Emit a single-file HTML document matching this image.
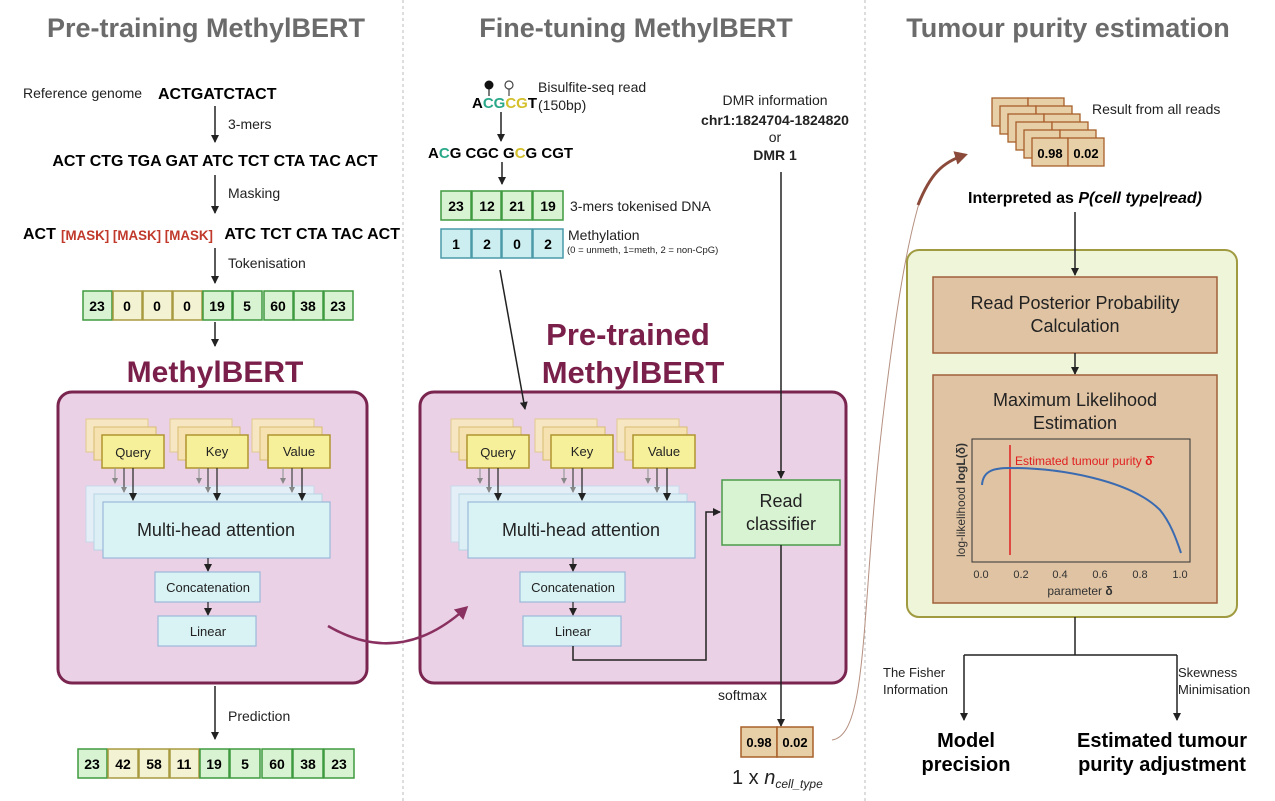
<!DOCTYPE html>
<html><head><meta charset="utf-8"><style>
body{margin:0;background:#fff}
svg{display:block}
text{font-family:"Liberation Sans",sans-serif}
</style></head><body>
<svg width="1275" height="801" viewBox="0 0 1275 801" xmlns="http://www.w3.org/2000/svg">
<defs>
<marker id="ah" markerWidth="8" markerHeight="8" refX="7" refY="4" orient="auto" markerUnits="userSpaceOnUse"><path d="M0,0 L8,4 L0,8 z" fill="#222"/></marker>
<marker id="ahg" markerWidth="6" markerHeight="6" refX="5" refY="3" orient="auto" markerUnits="userSpaceOnUse"><path d="M0,0 L6,3 L0,6 z" fill="#888"/></marker>
<marker id="ahp" markerWidth="14" markerHeight="14" refX="10" refY="7" orient="auto" markerUnits="userSpaceOnUse"><path d="M0,0 L13,7 L0,14 z" fill="#8a3060"/></marker>
<marker id="ahb" markerWidth="14" markerHeight="14" refX="10" refY="7" orient="auto" markerUnits="userSpaceOnUse"><path d="M0,0 L13,7 L0,14 z" fill="#8b4a3a"/></marker>
</defs>

<!-- titles -->
<g font-weight="bold" font-size="27" fill="#6b6b6b" text-anchor="middle">
<text x="206" y="37">Pre-training MethylBERT</text>
<text x="636" y="37">Fine-tuning MethylBERT</text>
<text x="1068" y="37">Tumour purity estimation</text>
</g>
<line x1="403" y1="0" x2="403" y2="801" stroke="#bbb" stroke-dasharray="3,3"/>
<line x1="865" y1="0" x2="865" y2="801" stroke="#bbb" stroke-dasharray="3,3"/>

<!-- LEFT -->
<text x="23" y="98" font-size="14" fill="#222">Reference genome</text>
<text x="158" y="99" font-size="16" font-weight="bold">ACTGATCTACT</text>
<line x1="215" y1="106" x2="215" y2="142" stroke="#222" stroke-width="1.5" marker-end="url(#ah)"/>
<text x="228" y="129" font-size="14" fill="#222">3-mers</text>
<text x="215" y="166" font-size="16" font-weight="bold" text-anchor="middle">ACT CTG TGA GAT ATC TCT CTA TAC ACT</text>
<line x1="215" y1="175" x2="215" y2="213" stroke="#222" stroke-width="1.5" marker-end="url(#ah)"/>
<text x="228" y="198" font-size="14" fill="#222">Masking</text>
<text x="23" y="239" font-size="16" font-weight="bold">ACT</text>
<text x="61" y="240" font-size="13.5" font-weight="bold" fill="#c0392b" textLength="152" lengthAdjust="spacingAndGlyphs">[MASK] [MASK] [MASK]</text>
<text x="400" y="239" font-size="16" font-weight="bold" text-anchor="end">ATC TCT CTA TAC ACT</text>
<line x1="215" y1="248" x2="215" y2="283" stroke="#222" stroke-width="1.5" marker-end="url(#ah)"/>
<text x="228" y="268" font-size="14" fill="#222">Tokenisation</text>

<g font-size="14" font-weight="bold" text-anchor="middle">
<g stroke-width="1.5">
<rect x="83" y="291" width="29" height="29" fill="#d8f3d2" stroke="#3f9a3f"/>
<rect x="113" y="291" width="29" height="29" fill="#f3f2d3" stroke="#a89a40"/>
<rect x="143" y="291" width="29" height="29" fill="#f3f2d3" stroke="#a89a40"/>
<rect x="173" y="291" width="29" height="29" fill="#f3f2d3" stroke="#a89a40"/>
<rect x="203" y="291" width="29" height="29" fill="#d8f3d2" stroke="#3f9a3f"/>
<rect x="233" y="291" width="29" height="29" fill="#d8f3d2" stroke="#3f9a3f"/>
<rect x="264" y="291" width="29" height="29" fill="#d8f3d2" stroke="#3f9a3f"/>
<rect x="294" y="291" width="29" height="29" fill="#d8f3d2" stroke="#3f9a3f"/>
<rect x="324" y="291" width="29" height="29" fill="#d8f3d2" stroke="#3f9a3f"/>
</g>
<text x="97" y="311">23</text><text x="127" y="311">0</text><text x="157" y="311">0</text><text x="187" y="311">0</text><text x="217" y="311">19</text><text x="247" y="311">5</text><text x="278" y="311">60</text><text x="308" y="311">38</text><text x="338" y="311">23</text>
</g>
<line x1="215" y1="322" x2="215" y2="346" stroke="#222" stroke-width="1.5" marker-end="url(#ah)"/>
<text x="215" y="382" font-size="30" font-weight="bold" fill="#7a1f4a" text-anchor="middle">MethylBERT</text>

<!-- left purple box -->
<rect x="58" y="392" width="309" height="291" rx="14" fill="#ead1e6" stroke="#7a2550" stroke-width="3"/>
<g id="qkv">
<g stroke-width="1">
<rect x="86" y="419" width="62" height="33" fill="#f7e6c2" stroke="#e0c890"/>
<rect x="94" y="427" width="62" height="33" fill="#f5e2b0" stroke="#d8bc70"/>
<rect x="102" y="435" width="62" height="33" fill="#f7f09a" stroke="#b09530" stroke-width="1.5"/>
<rect x="170" y="419" width="62" height="33" fill="#f7e6c2" stroke="#e0c890"/>
<rect x="178" y="427" width="62" height="33" fill="#f5e2b0" stroke="#d8bc70"/>
<rect x="186" y="435" width="62" height="33" fill="#f7f09a" stroke="#b09530" stroke-width="1.5"/>
<rect x="252" y="419" width="62" height="33" fill="#f7e6c2" stroke="#e0c890"/>
<rect x="260" y="427" width="62" height="33" fill="#f5e2b0" stroke="#d8bc70"/>
<rect x="268" y="435" width="62" height="33" fill="#f7f09a" stroke="#b09530" stroke-width="1.5"/>
</g>
<g font-size="13" text-anchor="middle" fill="#222">
<text x="133" y="457">Query</text><text x="217" y="456">Key</text><text x="299" y="456">Value</text>
</g>
<rect x="86" y="486" width="228" height="56" fill="#e3eef7" stroke="#c8d8ea"/>
<rect x="94" y="494" width="228" height="56" fill="#dceff5" stroke="#b8d4e4"/>
<g stroke-width="1.2">
<line x1="115" y1="468" x2="115" y2="483" stroke="#999" marker-end="url(#ahg)"/>
<line x1="124" y1="468" x2="124" y2="492" stroke="#444" marker-end="url(#ahg)"/>
<line x1="133" y1="468" x2="133" y2="500" stroke="#222" marker-end="url(#ah)"/>
<line x1="199" y1="468" x2="199" y2="483" stroke="#999" marker-end="url(#ahg)"/>
<line x1="208" y1="468" x2="208" y2="492" stroke="#444" marker-end="url(#ahg)"/>
<line x1="217" y1="468" x2="217" y2="500" stroke="#222" marker-end="url(#ah)"/>
<line x1="283" y1="468" x2="283" y2="483" stroke="#999" marker-end="url(#ahg)"/>
<line x1="292" y1="468" x2="292" y2="492" stroke="#444" marker-end="url(#ahg)"/>
<line x1="302" y1="468" x2="302" y2="500" stroke="#222" marker-end="url(#ah)"/>
</g>
<rect x="103" y="502" width="227" height="56" fill="#d9f3f5" stroke="#9ab8d8" stroke-width="1.2"/>
<text x="216" y="536" font-size="18" text-anchor="middle" fill="#222">Multi-head attention</text>
<line x1="208" y1="558" x2="208" y2="571" stroke="#222" stroke-width="1.2" marker-end="url(#ah)"/>
<rect x="155" y="572" width="105" height="30" fill="#d9f3f5" stroke="#9ab8d8" stroke-width="1.2"/>
<text x="208" y="592" font-size="13" text-anchor="middle" fill="#222">Concatenation</text>
<line x1="208" y1="602" x2="208" y2="615" stroke="#222" stroke-width="1.2" marker-end="url(#ah)"/>
<rect x="158" y="616" width="98" height="30" fill="#d9f3f5" stroke="#9ab8d8" stroke-width="1.2"/>
<text x="208" y="636" font-size="13" text-anchor="middle" fill="#222">Linear</text>
</g>

<line x1="215" y1="686" x2="215" y2="739" stroke="#222" stroke-width="1.5" marker-end="url(#ah)"/>
<text x="228" y="721" font-size="14" fill="#222">Prediction</text>
<g font-size="14" font-weight="bold" text-anchor="middle">
<g stroke-width="1.5">
<rect x="78" y="749" width="29" height="29" fill="#d8f3d2" stroke="#3f9a3f"/>
<rect x="108" y="749" width="30" height="29" fill="#f3f2d3" stroke="#a89a40"/>
<rect x="139" y="749" width="30" height="29" fill="#f3f2d3" stroke="#a89a40"/>
<rect x="170" y="749" width="29" height="29" fill="#f3f2d3" stroke="#a89a40"/>
<rect x="200" y="749" width="29" height="29" fill="#d8f3d2" stroke="#3f9a3f"/>
<rect x="230" y="749" width="30" height="29" fill="#d8f3d2" stroke="#3f9a3f"/>
<rect x="262" y="749" width="30" height="29" fill="#d8f3d2" stroke="#3f9a3f"/>
<rect x="293" y="749" width="30" height="29" fill="#d8f3d2" stroke="#3f9a3f"/>
<rect x="324" y="749" width="30" height="29" fill="#d8f3d2" stroke="#3f9a3f"/>
</g>
<text x="92" y="769">23</text><text x="123" y="769">42</text><text x="154" y="769">58</text><text x="184" y="769">11</text><text x="214" y="769">19</text><text x="245" y="769">5</text><text x="277" y="769">60</text><text x="308" y="769">38</text><text x="339" y="769">23</text>
</g>

<!-- MIDDLE -->
<line x1="489" y1="86" x2="489" y2="96" stroke="#222" stroke-width="1.2"/>
<circle cx="489" cy="85" r="4.5" fill="#111"/>
<line x1="509" y1="89" x2="509" y2="96" stroke="#444" stroke-width="1.2"/>
<circle cx="509" cy="85" r="4" fill="#fff" stroke="#444" stroke-width="1.2"/>
<text x="472" y="108" font-size="15" font-weight="bold"><tspan>A</tspan><tspan fill="#2aa88a">CG</tspan><tspan fill="#d4c02a">CG</tspan><tspan>T</tspan></text>
<text x="538" y="92" font-size="14" fill="#222">Bisulfite-seq read</text>
<text x="538" y="110" font-size="14" fill="#222">(150bp)</text>
<line x1="501" y1="112" x2="501" y2="141" stroke="#222" stroke-width="1.5" marker-end="url(#ah)"/>
<text x="428" y="158" font-size="15" font-weight="bold"><tspan>A</tspan><tspan fill="#2aa88a">C</tspan><tspan>G CGC G</tspan><tspan fill="#d4c02a">C</tspan><tspan>G CGT</tspan></text>
<line x1="502" y1="162" x2="502" y2="184" stroke="#222" stroke-width="1.5" marker-end="url(#ah)"/>
<g font-size="14" font-weight="bold" text-anchor="middle">
<g stroke-width="1.5">
<rect x="441" y="191" width="30" height="29" fill="#d8f3d2" stroke="#3f9a3f"/>
<rect x="472" y="191" width="29" height="29" fill="#d8f3d2" stroke="#3f9a3f"/>
<rect x="502" y="191" width="30" height="29" fill="#d8f3d2" stroke="#3f9a3f"/>
<rect x="533" y="191" width="30" height="29" fill="#d8f3d2" stroke="#3f9a3f"/>
<rect x="441" y="229" width="30" height="29" fill="#cdeef0" stroke="#4a9aa8"/>
<rect x="472" y="229" width="29" height="29" fill="#cdeef0" stroke="#4a9aa8"/>
<rect x="502" y="229" width="30" height="29" fill="#cdeef0" stroke="#4a9aa8"/>
<rect x="533" y="229" width="30" height="29" fill="#cdeef0" stroke="#4a9aa8"/>
</g>
<text x="456" y="211">23</text><text x="487" y="211">12</text><text x="517" y="211">21</text><text x="548" y="211">19</text>
<text x="456" y="249">1</text><text x="487" y="249">2</text><text x="517" y="249">0</text><text x="548" y="249">2</text>
</g>
<text x="570" y="211" font-size="14" fill="#222">3-mers tokenised DNA</text>
<text x="568" y="240" font-size="14" fill="#222">Methylation</text>
<text x="567" y="253" font-size="9.5" fill="#222">(0 = unmeth, 1=meth, 2 = non-CpG)</text>

<g text-anchor="middle" fill="#222">
<text x="775" y="105" font-size="14">DMR information</text>
<text x="775" y="125" font-size="14" font-weight="bold">chr1:1824704-1824820</text>
<text x="775" y="142" font-size="14">or</text>
<text x="775" y="160" font-size="14" font-weight="bold">DMR 1</text>
</g>

<g font-size="31" font-weight="bold" fill="#7a1f4a" text-anchor="middle">
<text x="628" y="345">Pre-trained</text>
<text x="633" y="383">MethylBERT</text>
</g>

<rect x="420" y="392" width="426" height="291" rx="14" fill="#ead1e6" stroke="#7a2550" stroke-width="3"/>
<use href="#qkv" transform="translate(365,0)"/>
<line x1="500" y1="270" x2="525" y2="409" stroke="#222" stroke-width="1.5" marker-end="url(#ah)"/>
<line x1="781" y1="172" x2="781" y2="478" stroke="#222" stroke-width="1.5" marker-end="url(#ah)"/>

<rect x="722" y="480" width="118" height="65" fill="#d8f3d2" stroke="#4a9a4a" stroke-width="1.5"/>
<text x="781" y="507" font-size="18" text-anchor="middle" fill="#222">Read</text>
<text x="781" y="530" font-size="18" text-anchor="middle" fill="#222">classifier</text>
<path d="M573,646 V660 H706 V512 H720" fill="none" stroke="#222" stroke-width="1.5" marker-end="url(#ah)"/>
<line x1="781" y1="545" x2="781" y2="726" stroke="#222" stroke-width="1.5" marker-end="url(#ah)"/>
<text x="718" y="700" font-size="14" fill="#222">softmax</text>
<g font-size="13" font-weight="bold" text-anchor="middle">
<rect x="741" y="727" width="36" height="30" fill="#e7cfa8" stroke="#a8602a" stroke-width="1.5"/>
<rect x="777" y="727" width="36" height="30" fill="#e7cfa8" stroke="#a8602a" stroke-width="1.5"/>
<text x="759" y="747">0.98</text><text x="795" y="747">0.02</text>
</g>
<text x="732" y="784" font-size="20" fill="#222">1 x <tspan font-style="italic">n</tspan><tspan font-size="12" font-style="italic" dy="4">cell_type</tspan></text>

<!-- purple curved arrow (on top) -->
<path d="M328,626 Q400,668 466,608" fill="none" stroke="#8a3060" stroke-width="2.5" marker-end="url(#ahp)"/>

<!-- long curve -->
<path d="M832,740 C870,735 860,600 885,400 C895,320 905,250 920,200" fill="none" stroke="#b59080" stroke-width="1"/>
<path d="M918,205 C930,175 942,162 965,155" fill="none" stroke="#8b4a3a" stroke-width="3" marker-end="url(#ahb)"/>

<!-- RIGHT -->
<g font-size="13" font-weight="bold">
<g stroke="#a8602a" stroke-width="1.3" fill="#e7cfa8">
<rect x="992" y="98" width="36" height="28"/><rect x="1028" y="98" width="36" height="28"/>
<rect x="1000" y="106" width="36" height="28"/><rect x="1036" y="106" width="36" height="28"/>
<rect x="1008" y="114" width="36" height="28"/><rect x="1044" y="114" width="36" height="28"/>
<rect x="1016" y="122" width="36" height="28"/><rect x="1052" y="122" width="36" height="28"/>
<rect x="1024" y="130" width="36" height="28"/><rect x="1060" y="130" width="36" height="28"/>
<rect x="1032" y="138" width="36" height="28"/><rect x="1068" y="138" width="36" height="28"/>
</g>
<text x="1050" y="158" text-anchor="middle">0.98</text><text x="1086" y="158" text-anchor="middle">0.02</text>
</g>
<text x="1092" y="114" font-size="14" fill="#222">Result from all reads</text>
<text x="1085" y="203" font-size="16" font-weight="bold" text-anchor="middle">Interpreted as <tspan font-style="italic">P(cell type|read)</tspan></text>

<rect x="907" y="250" width="330" height="367" rx="12" fill="#eef5d9" stroke="#a09a40" stroke-width="2"/>
<line x1="1075" y1="212" x2="1075" y2="275" stroke="#222" stroke-width="1.5" marker-end="url(#ah)"/>
<rect x="933" y="277" width="284" height="76" fill="#dfc3a3" stroke="#a0603a" stroke-width="1.5"/>
<text x="1075" y="309" font-size="18" text-anchor="middle" fill="#222">Read Posterior Probability</text>
<text x="1075" y="332" font-size="18" text-anchor="middle" fill="#222">Calculation</text>
<line x1="1075" y1="353" x2="1075" y2="374" stroke="#222" stroke-width="1.5" marker-end="url(#ah)"/>
<rect x="933" y="375" width="284" height="228" fill="#dfc3a3" stroke="#a0603a" stroke-width="1.5"/>
<text x="1075" y="406" font-size="18" text-anchor="middle" fill="#222">Maximum Likelihood</text>
<text x="1075" y="429" font-size="18" text-anchor="middle" fill="#222">Estimation</text>
<rect x="972" y="439" width="218" height="123" fill="none" stroke="#333" stroke-width="1"/>
<line x1="1010" y1="445" x2="1010" y2="555" stroke="#e02020" stroke-width="1.5"/>
<text x="1015" y="465" font-size="12" fill="#e02020">Estimated tumour purity <tspan font-weight="bold">δ̂</tspan></text>
<path d="M982,485 C983,470 995,468 1010,468 C1060,468 1130,480 1160,510 C1170,522 1176,538 1181,553" fill="none" stroke="#3a6ab0" stroke-width="2"/>
<g font-size="11" fill="#333" text-anchor="middle">
<text x="981" y="578">0.0</text><text x="1021" y="578">0.2</text><text x="1060" y="578">0.4</text><text x="1100" y="578">0.6</text><text x="1140" y="578">0.8</text><text x="1180" y="578">1.0</text>
<text x="1080" y="595" font-size="12">parameter <tspan font-weight="bold">δ</tspan></text>
<text transform="translate(965,500) rotate(-90)" font-size="12">log-likelihood <tspan font-weight="bold">logL(δ)</tspan></text>
</g>

<line x1="1075" y1="617" x2="1075" y2="655" stroke="#222" stroke-width="1.5"/>
<line x1="964" y1="655" x2="1177" y2="655" stroke="#222" stroke-width="1.5"/>
<line x1="964" y1="655" x2="964" y2="720" stroke="#222" stroke-width="1.5" marker-end="url(#ah)"/>
<line x1="1177" y1="655" x2="1177" y2="720" stroke="#222" stroke-width="1.5" marker-end="url(#ah)"/>
<g font-size="13" fill="#222">
<text x="883" y="677">The Fisher</text><text x="883" y="694">Information</text>
<text x="1178" y="677">Skewness</text><text x="1178" y="694">Minimisation</text>
</g>
<g font-size="20" font-weight="bold" text-anchor="middle">
<text x="966" y="747">Model</text><text x="966" y="771">precision</text>
<text x="1162" y="747">Estimated tumour</text><text x="1162" y="771">purity adjustment</text>
</g>
</svg>
</body></html>
